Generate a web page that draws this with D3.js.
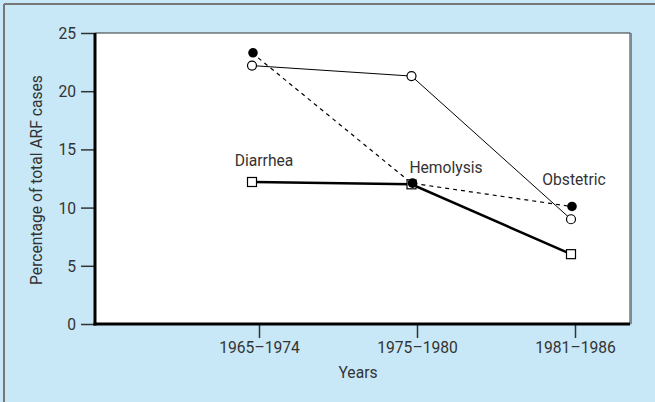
<!DOCTYPE html>
<html><head><meta charset="utf-8">
<script src="https://cdn.jsdelivr.net/npm/d3@7"></script>
<style>
html,body{margin:0;padding:0;background:#c8e8f8;}
svg{display:block;}
text{font-family:Roboto,"Liberation Sans",sans-serif;font-weight:400;fill:#333;}
</style></head>
<body>
<svg id="chart" width="655" height="402"></svg>
<script>
const periods = ["1965\u20131974", "1975\u20131980", "1981\u20131986"];
const yTicks = [0, 5, 10, 15, 20, 25];
const hemolysis = [23.3, 12.1, 10.1];
const obstetric = [22.2, 21.3, 9.0];
const diarrhea = [12.2, 12.0, 6.0];
const seriesLabels = ["Hemolysis", "Obstetric", "Diarrhea"];

(function(){
const W = 655, H = 402, FS = 17, K = 0.92;
const svg = d3.select("#chart");
svg.append("rect").attr("x",0).attr("y",0).attr("width",W).attr("height",H).attr("fill","#c8e8f8");
svg.append("line").attr("x1",4).attr("x2",W).attr("y1",4).attr("y2",4).attr("stroke","#777").attr("stroke-width",2);
svg.append("line").attr("x1",4).attr("x2",4).attr("y1",4).attr("y2",H).attr("stroke","#777").attr("stroke-width",2);

const pL = 95, pR = 630, pT = 33, pB = 324;
svg.append("rect").attr("x",pL).attr("y",pT).attr("width",pR-pL).attr("height",pB-pT)
  .attr("fill","#fff").attr("stroke","#333").attr("stroke-width",1);

const y = d3.scaleLinear().domain([0,25]).range([pB, pT]);
const x = d3.scalePoint().domain(periods).range([259, 575]);
const xm = d3.scalePoint().domain(periods).range([252, 571]);

const yAxis = d3.axisLeft(y).tickValues(yTicks).tickSize(13).tickPadding(5);
const gy = svg.append("g").attr("transform",`translate(${pL-1},0)`).call(yAxis);
gy.attr("font-family",null).attr("font-size",null);
gy.select(".domain").remove();
gy.selectAll(".tick line").attr("stroke","#333").attr("stroke-width",1.5);
gy.selectAll(".tick text").attr("font-size",FS).style("fill","#333");

const xAxis = d3.axisBottom(x).tickSize(13).tickPadding(3);
const gx = svg.append("g").attr("transform",`translate(0,${pB+1})`).call(xAxis);
gx.attr("font-family",null).attr("font-size",null);
gx.select(".domain").remove();
gx.selectAll(".tick line").attr("stroke","#333").attr("stroke-width",1.5);
gx.selectAll(".tick text").attr("font-size",FS).style("fill","#333");

svg.append("line").attr("x1",pL).attr("x2",pL).attr("y1",pT).attr("y2",pB+1.5).attr("stroke","#000").attr("stroke-width",3);
svg.append("line").attr("x1",pL-1.5).attr("x2",pR).attr("y1",pB).attr("y2",pB).attr("stroke","#000").attr("stroke-width",3);
svg.append("line").attr("x1",pR+1.5).attr("x2",pR+1.5).attr("y1",pT).attr("y2",pB).attr("stroke","#888").attr("stroke-width",1);

svg.append("text").attr("transform","translate(42,180) rotate(-90)").attr("text-anchor","middle")
  .attr("font-size",FS).text("Percentage of total ARF cases");
svg.append("text").attr("x",358).attr("y",378).attr("text-anchor","middle").attr("font-size",FS).text("Years");

const line = d3.line().x((d,i)=>xm(periods[i])).y(d=>y(d));

svg.append("path").datum(diarrhea).attr("d",line).attr("fill","none").attr("stroke","#000").attr("stroke-width",2.5);
svg.append("path").datum(obstetric).attr("d",line).attr("fill","none").attr("stroke","#000").attr("stroke-width",1);
svg.append("path").datum(hemolysis).attr("d",line).attr("fill","none").attr("stroke","#000").attr("stroke-width",1.2).attr("stroke-dasharray","4,4");

svg.selectAll(".sq").data(diarrhea).enter().append("rect")
  .attr("x",(d,i)=>xm(periods[i])-4.5).attr("y",d=>y(d)-4.5).attr("width",9).attr("height",9)
  .attr("fill","#fff").attr("stroke","#000").attr("stroke-width",1.2);
svg.selectAll(".oc").data(obstetric).enter().append("circle")
  .attr("cx",(d,i)=>xm(periods[i])).attr("cy",d=>y(d)).attr("r",4.5)
  .attr("fill","#fff").attr("stroke","#000").attr("stroke-width",1.2);
svg.selectAll(".fc").data(hemolysis).enter().append("circle")
  .attr("cx",(d,i)=>xm(periods[i])+1).attr("cy",d=>y(d)).attr("r",4.8)
  .attr("fill","#000");

svg.append("text").attr("x",264).attr("y",166).attr("text-anchor","middle").attr("font-size",FS).text(seriesLabels[2]);
svg.append("text").attr("x",446).attr("y",173).attr("text-anchor","middle").attr("font-size",FS).text(seriesLabels[0]);
svg.append("text").attr("x",574).attr("y",185).attr("text-anchor","middle").attr("font-size",FS).text(seriesLabels[1]);

// condense glyphs to mimic the narrow original typeface
svg.selectAll("text").each(function(){
  const w = this.getComputedTextLength();
  d3.select(this).attr("textLength", w*K).attr("lengthAdjust","spacingAndGlyphs");
});
})();
</script>
</body></html>
